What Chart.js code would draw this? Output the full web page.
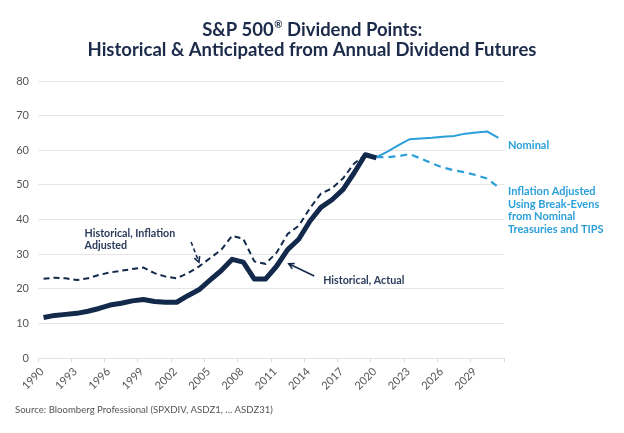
<!DOCTYPE html>
<html>
<head>
<meta charset="utf-8">
<script src="https://cdn.jsdelivr.net/npm/chart.js@4.4.1/dist/chart.umd.min.js"></script>
<style>
  html, body { margin: 0; padding: 0; background: #ffffff; }
  #wrap { width: 624px; height: 433px; }
</style>
</head>
<body>
<div id="wrap"><canvas id="dividendChart" width="624" height="433"></canvas></div>
<script>
// Annual points, plotted at mid-year
const historicalYears = [1990, 1991, 1992, 1993, 1994, 1995, 1996, 1997, 1998, 1999, 2000,
    2001, 2002, 2003, 2004, 2005, 2006, 2007, 2008, 2009, 2010,
    2011, 2012, 2013, 2014, 2015, 2016, 2017, 2018, 2019, 2020];
const historicalActual = [11.7, 12.3, 12.6, 12.9, 13.5, 14.3, 15.3, 15.8, 16.5, 16.9, 16.3,
    16.1, 16.1, 18.0, 19.7, 22.5, 25.2, 28.5, 27.7, 22.8, 22.8,
    26.5, 31.3, 34.3, 39.5, 43.5, 45.7, 48.7, 53.5, 58.7, 57.8];
const historicalInflationAdj = [22.9, 23.2, 23.0, 22.5, 23.0, 24.0, 24.7, 25.2, 25.7, 26.1, 24.5,
    23.5, 23.0, 24.5, 26.4, 28.8, 31.2, 35.3, 34.4, 27.9, 27.2,
    30.4, 35.8, 38.2, 43.2, 47.5, 49.0, 51.9, 56.2, 58.6, 58.1];

const futureYears = [2020, 2021, 2022, 2023, 2024, 2025, 2026, 2027, 2028, 2029, 2030, 2031];
const nominalFutures = [58.0, 59.6, 61.5, 63.2, 63.4, 63.6, 63.9, 64.1, 64.8, 65.1, 65.4, 63.6];
const inflationAdjFutures = [58.0, 58.0, 58.3, 58.9, 57.6, 56.2, 55.0, 54.2, 53.6, 52.8, 51.8, 49.3];

const tickYears = [1990, 1993, 1996, 1999, 2002, 2005, 2008, 2011, 2014, 2017, 2020, 2023, 2026, 2029];
const axisStart = 1990;
const axisEnd = 2032;

const navy = '#13294b';
const lightBlue = '#2b9fd9';

function toPoints(yrs, vals) {
    return yrs.map((yr, i) => ({ x: yr + 0.5, y: vals[i] }));
}

function drawArrow(ctx, x1, y1, x2, y2, dashed) {
    ctx.save();
    ctx.strokeStyle = navy;
    ctx.lineWidth = 1.6;
    ctx.setLineDash(dashed ? [4, 3] : []);
    ctx.beginPath();
    ctx.moveTo(x1, y1);
    ctx.lineTo(x2, y2);
    ctx.stroke();
    ctx.setLineDash([]);
    const ang = Math.atan2(y2 - y1, x2 - x1);
    const len = 6;
    ctx.beginPath();
    ctx.moveTo(x2 - len * Math.cos(ang - 0.5), y2 - len * Math.sin(ang - 0.5));
    ctx.lineTo(x2, y2);
    ctx.lineTo(x2 - len * Math.cos(ang + 0.5), y2 - len * Math.sin(ang + 0.5));
    ctx.stroke();
    ctx.restore();
}

const textPlugin = {
    id: 'textPlugin',
    afterDraw(chart) {
        const { ctx, chartArea, scales: { x, y } } = chart;
        ctx.save();
        // title, with a small raised ®
        ctx.fillStyle = '#1c2b4a';
        ctx.textBaseline = 'middle';
        const big = 'bold 18.5px Lato';
        const small = 'bold 10px Lato';
        const a = 'S&P 500', b = '®', c = ' Dividend Points:';
        ctx.font = big;
        const wa = ctx.measureText(a).width, wc = ctx.measureText(c).width;
        ctx.font = small;
        const wb = ctx.measureText(b).width;
        let tx = 312 - (wa + wb + wc) / 2;
        ctx.textAlign = 'left';
        ctx.font = big;
        ctx.fillText(a, tx, 30);
        ctx.font = small;
        ctx.fillText(b, tx + wa + 0.5, 25);
        ctx.font = big;
        ctx.fillText(c, tx + wa + wb + 0.5, 30);
        ctx.textAlign = 'center';
        ctx.fillText('Historical & Anticipated from Annual Dividend Futures', 312, 50);

        // line labels
        ctx.textAlign = 'left';
        ctx.font = 'bold 10.7px Lato';
        ctx.fillStyle = '#2a3b5a';
        ctx.fillText('Historical, Inflation', x.getPixelForValue(1994.2), y.getPixelForValue(36.0));
        ctx.fillText('Adjusted', x.getPixelForValue(1994.2), y.getPixelForValue(32.4));
        ctx.fillText('Historical, Actual', x.getPixelForValue(2015.7), y.getPixelForValue(22.5));

        ctx.fillStyle = lightBlue;
        ctx.font = 'bold 11px Lato';
        const rx = chartArea.right + 4;
        ctx.fillText('Nominal', rx, y.getPixelForValue(61.3));
        const infl = ['Inflation Adjusted', 'Using Break-Evens', 'from Nominal', 'Treasuries and TIPS'];
        infl.forEach((t, i) => ctx.fillText(t, rx, y.getPixelForValue(48.0) + i * 12.5));

        // source
        ctx.font = '9.6px Lato';
        ctx.fillStyle = '#555555';
        ctx.fillText('Source: Bloomberg Professional (SPXDIV, ASDZ1, ... ASDZ31)', 15, 410);
        ctx.restore();

        drawArrow(ctx, x.getPixelForValue(2003.8), y.getPixelForValue(33.5),
            x.getPixelForValue(2004.5), y.getPixelForValue(27.7), true);
        drawArrow(ctx, x.getPixelForValue(2014.9), y.getPixelForValue(23.7),
            x.getPixelForValue(2012.6), y.getPixelForValue(27.2), false);
    }
};

document.addEventListener('DOMContentLoaded', () => {
    const ctx = document.getElementById('dividendChart').getContext('2d');
    new Chart(ctx, {
        type: 'line',
        data: {
            datasets: [
                {
                    label: 'Historical, Actual',
                    data: toPoints(historicalYears, historicalActual),
                    borderColor: navy,
                    borderWidth: 5,
                    pointRadius: 0,
                    tension: 0,
                    borderJoinStyle: 'round'
                },
                {
                    label: 'Historical, Inflation Adjusted',
                    data: toPoints(historicalYears, historicalInflationAdj),
                    borderColor: navy,
                    borderWidth: 2,
                    borderDash: [6, 4],
                    pointRadius: 0,
                    tension: 0
                },
                {
                    label: 'Nominal',
                    data: toPoints(futureYears, nominalFutures),
                    borderColor: lightBlue,
                    borderWidth: 2,
                    pointRadius: 0,
                    tension: 0
                },
                {
                    label: 'Inflation Adjusted Using Break-Evens',
                    data: toPoints(futureYears, inflationAdjFutures),
                    borderColor: lightBlue,
                    borderWidth: 2.2,
                    borderDash: [7, 5],
                    pointRadius: 0,
                    tension: 0
                }
            ]
        },
        options: {
            responsive: false,
            animation: false,
            layout: {
                padding: { top: 81, right: 120, left: 0, bottom: 0 }
            },
            plugins: {
                legend: { display: false },
                title: { display: false },
                tooltip: { enabled: false }
            },
            scales: {
                x: {
                    type: 'linear',
                    min: axisStart,
                    max: axisEnd,
                    afterFit: (scale) => { scale.height = 75; },
                    ticks: {
                        stepSize: 3,
                        autoSkip: false,
                        minRotation: 45,
                        maxRotation: 45,
                        color: '#555555',
                        font: { family: 'Lato', size: 11 },
                        padding: 3,
                        labelOffset: 4,
                        callback: (v) => tickYears.includes(v) ? String(v) : ''
                    },
                    grid: {
                        drawOnChartArea: false,
                        drawTicks: true,
                        tickLength: 4,
                        color: '#d9d9d9'
                    },
                    border: { display: true, color: '#e3e3e3' }
                },
                y: {
                    min: 0,
                    max: 80,
                    afterFit: (scale) => { scale.width = 38; },
                    ticks: {
                        stepSize: 10,
                        color: '#555555',
                        font: { family: 'Lato', size: 11 },
                        padding: 9
                    },
                    grid: {
                        color: '#e6e6e6',
                        drawTicks: false
                    },
                    border: { display: false }
                }
            }
        },
        plugins: [textPlugin]
    });
});
</script>
</body>
</html>
